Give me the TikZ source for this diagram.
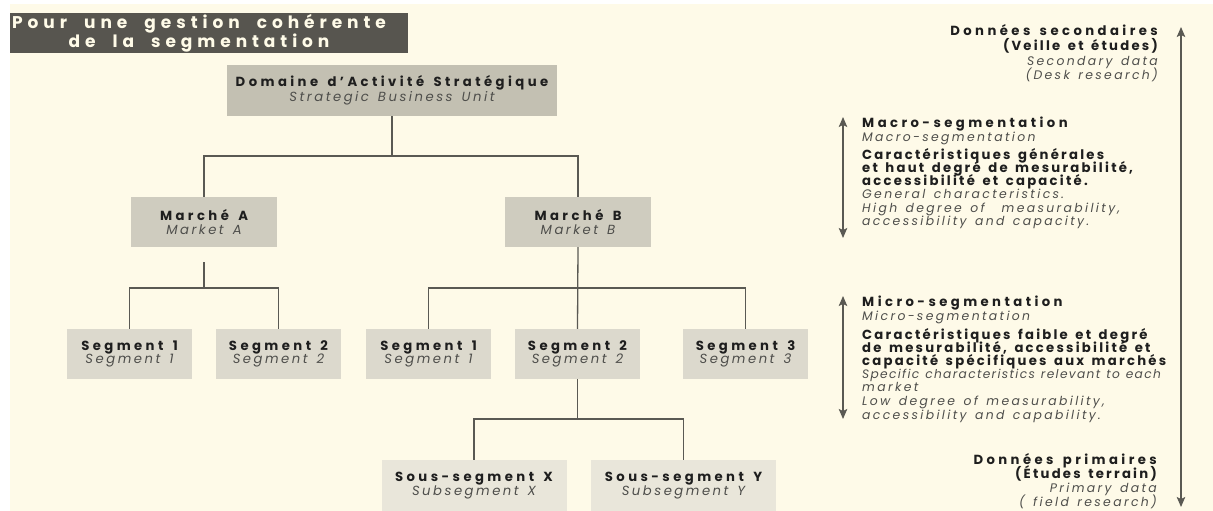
\documentclass[tikz,border=0pt]{standalone}
\usepackage{fontspec}
\usetikzlibrary{arrows.meta}
\setmainfont{Poppins}
\newfontfamily\fTitle{Poppins}[LetterSpace=29,WordSpace=2.0]
\newfontfamily\fHead{Poppins}[LetterSpace=26,WordSpace=1.5]
\newfontfamily\fBody{Poppins}[LetterSpace=17,WordSpace=1.5]
\newfontfamily\fItal{Poppins}[LetterSpace=19,WordSpace=1.4]
\newfontfamily\fItalTight{Poppins}[LetterSpace=11,WordSpace=1.2]

\definecolor{bgc}{HTML}{FEFAE8}
\definecolor{barc}{HTML}{57554F}
\definecolor{bartext}{HTML}{FFFBE8}
\definecolor{dasfill}{HTML}{C3C0B2}
\definecolor{mktfill}{HTML}{CFCCBF}
\definecolor{segfill}{HTML}{DCD9CD}
\definecolor{subfill}{HTML}{E9E6DA}
\definecolor{linec}{HTML}{5A5953}
\definecolor{txt}{HTML}{1E1E1E}
\definecolor{itc}{HTML}{4E4E4B}

% italic second line inside the boxes
\newcommand\boxit[1]{{\fItal\mdseries\itshape\fontsize{13.2}{13}\selectfont\color{itc}#1}}

\tikzset{
  box/.style={inner sep=0pt, align=center, text=txt,
    font=\fHead\bfseries\fontsize{13.2}{13.5}\selectfont},
  dasbox/.style={box, fill=dasfill, minimum width=330pt, minimum height=51pt},
  mktbox/.style={box, fill=mktfill, minimum width=146pt, minimum height=50pt},
  segbox/.style={box, fill=segfill, minimum width=125pt, minimum height=50pt},
  subbox/.style={box, fill=subfill, minimum width=185pt, minimum height=51pt},
  conn/.style={draw=linec, line width=1.3pt},
  dblarrow/.style={draw=linec, line width=1.3pt,
    {Stealth[length=10pt,width=8.5pt,inset=2pt]}-{Stealth[length=10pt,width=8.5pt,inset=2pt]}},
  head/.style={inner sep=0pt, text=txt, font=\fHead\bfseries\fontsize{13.2}{14}\selectfont},
  body/.style={inner sep=0pt, text=txt, font=\fBody\bfseries\fontsize{13.2}{14}\selectfont},
  ital/.style={inner sep=0pt, text=itc, font=\fItal\itshape\fontsize{12.4}{13}\selectfont},
  italtight/.style={ital, font=\fItalTight\itshape\fontsize{12.2}{13}\selectfont},
}

\begin{document}
\begin{tikzpicture}[x=1pt,y=-1pt]
\useasboundingbox (0,0) rectangle (1213,511);
\fill[white] (0,0) rectangle (1213,511);
\fill[bgc] (10,4) rectangle (1213,511);

% title bar
\node[fill=barc, minimum width=398pt, minimum height=40pt, inner sep=0pt]
  (titlebar) at (209,33) {};
\node[text=bartext, inner sep=0pt, align=center,
  font=\fTitle\bfseries\fontsize{17}{18}\selectfont]
  (title) at (199,33.5) {Pour une gestion cohérente\\de la segmentation};

% hierarchy boxes
\node[dasbox] (das) at (392,90.5) {Domaine d’Activité Stratégique\\\boxit{Strategic Business Unit}};
\node[mktbox] (ma) at (204,222) {Marché A\\\boxit{Market A}};
\node[mktbox] (mb) at (578,222) {Marché B\\\boxit{Market B}};
\node[segbox] (a1) at (129.5,354) {Segment 1\\\boxit{Segment 1}};
\node[segbox] (a2) at (278.5,354) {Segment 2\\\boxit{Segment 2}};
\node[segbox] (b1) at (428.5,354) {Segment 1\\\boxit{Segment 1}};
\node[segbox] (b2) at (577.5,354) {Segment 2\\\boxit{Segment 2}};
\node[segbox] (b3) at (745.5,354) {Segment 3\\\boxit{Segment 3}};
\node[subbox] (sx) at (474,485.5) {Sous-segment X\\\boxit{Subsegment X}};
\node[subbox] (sy) at (683.5,485.5) {Sous-segment Y\\\boxit{Subsegment Y}};

% tree connectors
\coordinate (busTop) at (0,156);
\coordinate (busMid) at (0,288);
\coordinate (busLow) at (0,419);
\coordinate (ma-stub) at ([yshift=-15pt]ma.south);
\draw[conn] (das.south) -- (das.south |- busTop);
\draw[conn] (ma.north) -- (ma.north |- busTop) -| (mb.north);
\draw[conn] (ma-stub) -- (ma-stub |- busMid);
\draw[conn] (a1.north) -- (a1.north |- busMid) -| (a2.north);
\draw[conn] (mb.south) -- (b2.north);
\draw[conn] (b1.north) -- (b1.north |- busMid) -| (b3.north);
\draw[conn] (b2.south) -- (b2.south |- busLow);
\draw[conn] (sx.north) -- (sx.north |- busLow) -| (sy.north);

% side arrows
\coordinate (dataTop) at (1181,27);
\coordinate (dataBot) at (1181,507);
\coordinate (macroTop) at (843,117);
\coordinate (macroBot) at (843,238);
\coordinate (microTop) at (843,296);
\coordinate (microBot) at (843,419);
\draw[dblarrow] (dataTop) -- (dataBot);
\draw[dblarrow] (macroTop) -- (macroBot);
\draw[dblarrow] (microTop) -- (microBot);

% secondary data
\node[head, anchor=mid east] (sec1) at (1158,33) {Données secondaires};
\node[body, anchor=mid east] (sec2) at (1158,48) {(Veille et études)};
\node[ital, anchor=mid east] (sec3) at (1158,62.5) {Secondary data};
\node[ital, anchor=mid east] (sec4) at (1158,76.5) {(Desk research)};

% macro-segmentation
\node[head, anchor=mid west] (mac1) at (862,125) {Macro-segmentation};
\node[ital, anchor=mid west] (mac2) at (862,139) {Macro-segmentation};
\node[body, anchor=mid west] (mac3) at (862,156.5) {Caractéristiques générales};
\node[body, anchor=mid west] (mac4) at (862,169.5) {et haut degré de mesurabilité,};
\node[body, anchor=mid west] (mac5) at (862,183) {accessibilité et capacité.};
\node[ital, anchor=mid west] (mac6) at (862,196) {General characteristics.};
\node[ital, anchor=mid west] (mac7) at (862,209.5) {High degree of~ measurability,};
\node[ital, anchor=mid west] (mac8) at (862,223) {accessibility and capacity.};

% micro-segmentation
\node[head, anchor=mid west] (mic1) at (862,303.5) {Micro-segmentation};
\node[ital, anchor=mid west] (mic2) at (862,318) {Micro-segmentation};
\node[body, anchor=mid west] (mic3) at (862,336.5) {Caractéristiques faible et degré};
\node[body, anchor=mid west] (mic4) at (862,349.5) {de mesurabilité, accessibilité et};
\node[body, anchor=mid west] (mic5) at (862,362.5) {capacité spécifiques aux marchés};
\node[italtight, anchor=mid west] (mic6) at (862,375.5) {Specific characteristics relevant to each};
\node[ital, anchor=mid west] (mic7) at (862,389) {market};
\node[ital, anchor=mid west] (mic8) at (862,403) {Low degree of measurability,};
\node[ital, anchor=mid west] (mic9) at (862,416.5) {accessibility and capability.};

% primary data
\node[head, anchor=mid east] (pri1) at (1157,462) {Données primaires};
\node[body, anchor=mid east] (pri2) at (1157,476) {(Études terrain)};
\node[ital, anchor=mid east] (pri3) at (1157,490) {Primary data};
\node[ital, anchor=mid east] (pri4) at (1157,503.5) {( field research)};
\end{tikzpicture}
\end{document}
